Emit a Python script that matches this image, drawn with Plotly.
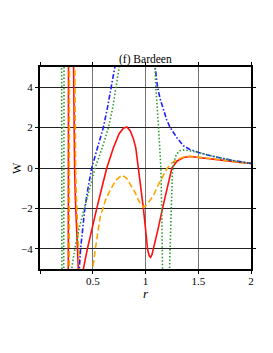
import plotly.graph_objects as go

# --- data (segments separated by None) ---
red_r = [0.268, 0.270, None,
         0.318, 0.322, 0.328, 0.335, 0.345, 0.356, 0.366, None,
         0.405, 0.411, 0.449, 0.49, 0.538, 0.585, 0.633, 0.696, 0.75, 0.79, 0.823, 0.855, 0.885, 0.908,
         0.934, 0.955, 0.98, 1.0, 1.019, 1.035, 1.048, 1.062, 1.076, 1.12, 1.161, 1.2, 1.218, 1.25,
         1.3, 1.36, 1.424, 1.5, 1.6, 1.7, 1.8, 1.9, 2.0]
red_w = [-5.3, 5.3, None,
         5.3, 2.0, 0.0, -1.5, -3.0, -4.2, -5.3, None,
         -5.3, -5.0, -4.0, -3.0, -2.0, -1.0, 0.0, 1.0, 1.7, 1.97, 2.03, 1.85, 1.45, 1.0,
         0.0, -1.0, -2.0, -3.0, -4.0, -4.35, -4.42, -4.28, -4.0, -3.0, -2.0, -1.1, -0.6, 0.0,
         0.35, 0.52, 0.57, 0.53, 0.46, 0.39, 0.34, 0.28, 0.22]

orange_r = [0.277, 0.279, None,
            0.33, 0.333, 0.338, 0.345, 0.356, 0.367, 0.377, None,
            0.498, 0.5, 0.522, 0.545, 0.57, 0.62, 0.665, 0.72, 0.775, 0.82, 0.854, 0.9, 0.934, 0.96,
            0.98, 1.0, 1.03, 1.076, 1.12, 1.155, 1.2, 1.25, 1.3, 1.36, 1.41, 1.5, 1.6, 1.7, 1.8,
            1.9, 2.0]
orange_w = [-5.3, 5.3, None,
            5.3, 2.0, 0.0, -1.5, -3.0, -4.2, -5.3, None,
            -5.3, -5.0, -4.1, -3.2, -2.43, -1.6, -1.1, -0.6, -0.35, -0.5, -0.77, -1.2, -1.6, -1.85,
            -1.93, -1.88, -1.7, -1.35, -0.85, -0.5, -0.05, 0.25, 0.42, 0.54, 0.58, 0.54, 0.47, 0.4, 0.34,
            0.28, 0.23]

blue_r = [0.366, 0.372, 0.385, 0.403, 0.425, 0.455, 0.49, 0.545, 0.6, 0.64, 0.674, 0.712, 0.72, None,
          1.085, 1.092, 1.114, 1.14, 1.165, 1.2, 1.234, 1.298, 1.36, 1.42, 1.5, 1.645, 1.8, 1.9, 2.0]
blue_w = [-5.3, -5.0, -4.0, -3.0, -2.0, -1.0, 0.0, 1.0, 2.0, 3.0, 4.0, 5.0, 5.3, None,
          5.3, 4.9, 4.0, 3.4, 3.0, 2.4, 2.0, 1.5, 1.1, 0.92, 0.77, 0.57, 0.4, 0.31, 0.23]

green_r = [0.205, 0.208, None,
           0.225, 0.228, None,
           0.297, 0.30, 0.33, 0.37, 0.42, 0.47, 0.522, 0.59, 0.649, 0.69, 0.718, 0.753, 0.76, None,
           1.088, 1.09, 1.098, 1.124, 1.146, 1.155, 1.162, None,
           1.226, 1.235, 1.245, 1.255, 1.27, 1.29, 1.32, 1.37, 1.43, 1.5, 1.6, 1.7, 1.8, 1.9, 2.0]
green_w = [5.3, -5.3, None,
           -5.3, 5.3, None,
           -5.3, -5.0, -4.0, -3.0, -2.0, -1.0, 0.0, 1.0, 2.0, 3.0, 4.0, 5.0, 5.3, None,
           5.3, 4.9, 4.0, 2.0, 0.0, -2.5, -5.3, None,
           -5.3, -3.5, -1.5, -0.2, 0.3, 0.65, 0.85, 0.9, 0.84, 0.78, 0.63, 0.5, 0.4, 0.3, 0.23]

x_ticks = [0, 0.5, 1, 1.5, 2]
x_tick_labels = ["", "0.5", "1", "1.5", "2"]
y_ticks = [-4, -2, 0, 2, 4]

SERIF = "Liberation Serif, Times New Roman, serif"

fig = go.Figure()
fig.add_trace(go.Scatter(x=red_r, y=red_w, mode="lines",
                         line=dict(color="#FF1010", width=1.6), connectgaps=False))
fig.add_trace(go.Scatter(x=orange_r, y=orange_w, mode="lines",
                         line=dict(color="#FFA500", width=1.6, dash="6px,3px"), connectgaps=False))
fig.add_trace(go.Scatter(x=blue_r, y=blue_w, mode="lines",
                         line=dict(color="#1F1FFF", width=1.6, dash="5px,2px,1.5px,2px"), connectgaps=False))
fig.add_trace(go.Scatter(x=green_r, y=green_w, mode="lines",
                         line=dict(color="#2E9E2E", width=1.6, dash="1.5px,2px"), connectgaps=False))

# page body has an 8px margin, so the figure is sized/placed to compensate
fig.update_layout(
    width=265, height=345,
    margin=dict(l=32, r=22, t=59, b=84),
    paper_bgcolor="white", plot_bgcolor="white",
    showlegend=False,
    font=dict(family=SERIF, size=11, color="black"),
    annotations=[
        dict(text="(f) Bardeen", x=0.5, y=1, xref="paper", yref="paper",
             xanchor="center", yanchor="bottom", yshift=-1, showarrow=False,
             font=dict(family=SERIF, size=11.5, color="black")),
        dict(text="<i>r</i>", x=0.5, y=0, xref="paper", yref="paper",
             xanchor="center", yanchor="top", yshift=-15, showarrow=False,
             font=dict(family=SERIF, size=13, color="black")),
        dict(text="W", x=0, y=0.5, xref="paper", yref="paper",
             xanchor="right", yanchor="middle", xshift=-14, textangle=-90, showarrow=False,
             font=dict(family=SERIF, size=12, color="black")),
    ],
)
fig.update_xaxes(range=[0, 2], tickvals=x_ticks, ticktext=x_tick_labels,
                 showgrid=True, gridcolor="#777777", gridwidth=1.3,
                 showline=True, linecolor="black", linewidth=2, mirror="ticks",
                 ticks="outside", ticklen=3, tickcolor="black", ticklabelstandoff=-2,
                 zeroline=False, tickfont=dict(family=SERIF, size=11))
fig.update_yaxes(range=[-5, 5], tickvals=y_ticks,
                 showgrid=True, gridcolor="#222222", gridwidth=1,
                 showline=True, linecolor="black", linewidth=2, mirror="ticks",
                 ticks="outside", ticklen=3, tickcolor="black",
                 zeroline=True, zerolinecolor="#222222", zerolinewidth=1,
                 tickfont=dict(family=SERIF, size=11))

fig.write_html("out.html")
